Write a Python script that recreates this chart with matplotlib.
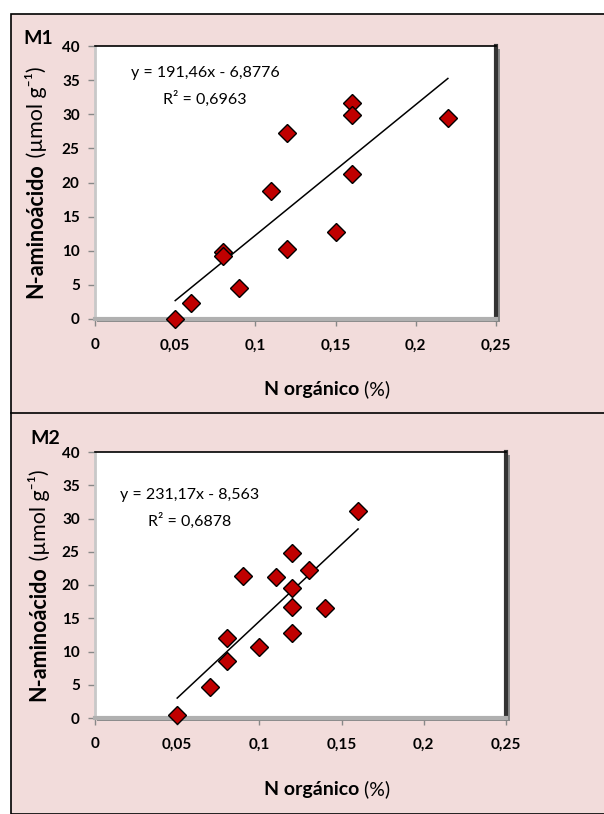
import matplotlib.pyplot as plt
from matplotlib.patches import Rectangle
from matplotlib.lines import Line2D

plt.rcParams['font.family'] = ['Lato', 'DejaVu Sans']

# M1 data
m1_x = [0.05, 0.06, 0.08, 0.08, 0.09, 0.11, 0.12, 0.12, 0.15, 0.16, 0.16, 0.16, 0.22]
m1_y = [0.0, 2.4, 9.8, 9.2, 4.5, 18.8, 27.3, 10.3, 12.8, 31.7, 29.9, 21.2, 29.5]
m1_fit = (191.46, -6.8776)
m1_eq = ["y = 191,46x - 6,8776", "R² = 0,6963"]

# M2 data
m2_x = [0.05, 0.07, 0.08, 0.08, 0.09, 0.10, 0.11, 0.12, 0.12, 0.12, 0.12, 0.13, 0.14, 0.16]
m2_y = [0.5, 4.6, 12.1, 8.6, 21.4, 10.7, 21.2, 24.8, 19.5, 16.7, 12.8, 22.2, 16.5, 31.1]
m2_fit = (231.17, -8.563)
m2_eq = ["y = 231,17x - 8,563", "R² = 0,6878"]

x_ticks = [0, 0.05, 0.1, 0.15, 0.2, 0.25]
x_labels = ['0', '0,05', '0,1', '0,15', '0,2', '0,25']
y_ticks = [0, 5, 10, 15, 20, 25, 30, 35, 40]

W, H = 604, 814
fig = plt.figure(figsize=(W / 100, H / 100), dpi=100, facecolor='white')
pink = '#F2DCDB'


def fx(px):
    return px / W


def fy(py):
    return 1 - py / H


# background frame
fig.patches.append(Rectangle((fx(11), 0), 1, fy(14), transform=fig.transFigure,
                             facecolor=pink, edgecolor='black', lw=1.2, zorder=-3))
fig.lines.append(Line2D([fx(11), 1], [fy(413), fy(413)], transform=fig.transFigure,
                        color='black', lw=1.2, zorder=-2))


def panel(box, xs, ys, fit, eq, tag, tag_xy, eq_xy, xlab_y, ylab_x):
    l, t, r, b = box
    # shadow
    fig.patches.append(Rectangle((fx(l + 2), fy(b + 3)), fx(r - l + 2), fy(t + 3) - fy(b + 3),
                                 transform=fig.transFigure, facecolor='#8a8a8a',
                                 edgecolor='none', zorder=-1))
    ax = fig.add_axes([fx(l), fy(b), fx(r - l), fy(t) - fy(b)])
    ax.set_facecolor('white')
    ax.set_xlim(0, 0.25)
    ax.set_ylim(0, 40)
    ax.set_xticks(x_ticks)
    ax.set_xticklabels(x_labels)
    ax.set_yticks(y_ticks)
    for lab in ax.get_xticklabels() + ax.get_yticklabels():
        lab.set_fontweight('bold')
        lab.set_fontsize(11)
    ax.tick_params(length=5, color='#888888', width=1, pad=6)
    ax.tick_params(axis='x', pad=9)
    ax.spines['top'].set_color('black')
    ax.spines['top'].set_linewidth(1.2)
    ax.spines['right'].set_color('#333333')
    ax.spines['right'].set_linewidth(3)
    ax.spines['left'].set_color('#c8c8c8')
    ax.spines['left'].set_linewidth(2)
    ax.spines['bottom'].set_color('#b0b0b0')
    ax.spines['bottom'].set_linewidth(3)

    x0, x1 = min(xs), max(xs)
    ax.plot([x0, x1], [fit[0] * x0 + fit[1], fit[0] * x1 + fit[1]], color='black', lw=1.1)
    ax.plot(xs, ys, 'D', ms=9, markerfacecolor='#C00000', markeredgecolor='black',
            markeredgewidth=1, clip_on=False, zorder=5)

    fig.text(fx(tag_xy[0]), fy(tag_xy[1]), tag, fontsize=14, fontweight='bold',
             ha='center', va='center')
    fig.text(fx(eq_xy[0]), fy(eq_xy[1]), eq[0], fontsize=11.5, ha='center', va='center')
    fig.text(fx(eq_xy[0]), fy(eq_xy[1] + 26), eq[1], fontsize=11.5, ha='center', va='center')

    # x label: bold + normal
    fig.canvas.draw()
    r_ = fig.canvas.get_renderer()
    tb = fig.text(0, fy(xlab_y), 'N orgánico', fontsize=14, fontweight='bold',
                  ha='left', va='center')
    tn = fig.text(0, fy(xlab_y), ' (%)', fontsize=14, ha='left', va='center')
    wb = tb.get_window_extent(r_).width
    wn = tn.get_window_extent(r_).width
    start = 327 - (wb + wn) / 2
    tb.set_x(fx(start))
    tn.set_x(fx(start + wb))

    # y label: bold + normal, rotated
    yc = (t + b) / 2
    lb = fig.text(fx(ylab_x), 0, 'N-aminoácido', fontsize=15.5, fontweight='bold',
                  rotation=90, ha='center', va='bottom')
    ln = fig.text(fx(ylab_x), 0, ' (µmol g⁻¹)', fontsize=15.5,
                  rotation=90, ha='center', va='bottom')
    hb = lb.get_window_extent(r_).height
    hn = ln.get_window_extent(r_).height
    bottom = yc + (hb + hn) / 2
    lb.set_y(fy(bottom))
    ln.set_y(fy(bottom - hb))
    return ax


panel((95, 46, 496, 319), m1_x, m1_y, m1_fit, m1_eq, 'M1', (38, 39), (205, 73), 389, 36)
panel((95, 452, 506, 718), m2_x, m2_y, m2_fit, m2_eq, 'M2', (45, 439), (190, 495), 789, 39)

fig.savefig('out.png', dpi=100, facecolor=fig.get_facecolor())
